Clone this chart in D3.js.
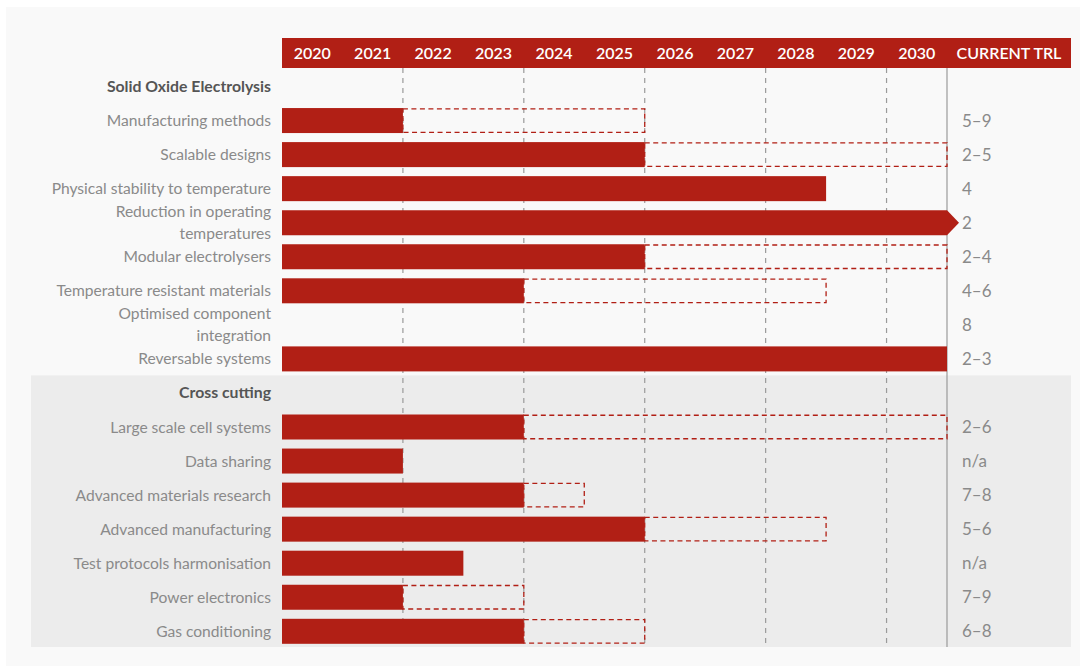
<!DOCTYPE html>
<html>
<head>
<meta charset="utf-8">
<script src="https://cdn.jsdelivr.net/npm/d3@7"></script>
<style>
  html, body { margin: 0; padding: 0; background: #ffffff; }
  svg { display: block; font-family: Lato, "Open Sans", sans-serif; }
</style>
</head>
<body>
<svg id="chart" width="1080" height="666"></svg>
<script>
// Roadmap data: years, activity rows, development phases and TRL levels
const years = [2020, 2021, 2022, 2023, 2024, 2025, 2026, 2027, 2028, 2029, 2030];
const gridYears = [2022, 2024, 2026, 2028, 2030];

const groups = ["Solid Oxide Electrolysis", "Cross cutting"];
const rowGroup = [0, 0, 0, 0, 0, 0, 0, 0, 1, 1, 1, 1, 1, 1, 1];
const rowLabels = [
  ["Manufacturing methods"],
  ["Scalable designs"],
  ["Physical stability to temperature"],
  ["Reduction in operating", "temperatures"],
  ["Modular electrolysers"],
  ["Temperature resistant materials"],
  ["Optimised component", "integration"],
  ["Reversable systems"],
  ["Large scale cell systems"],
  ["Data sharing"],
  ["Advanced materials research"],
  ["Advanced manufacturing"],
  ["Test protocols harmonisation"],
  ["Power electronics"],
  ["Gas conditioning"]
];
// Final year of the firm phase (null = no bar)
const solidEnd = [2021, 2025, 2028, 2030, 2025, 2023, null, 2030, 2023, 2021, 2023, 2025, 2022, 2021, 2023];
// Final year of the indicative phase (null = none)
const dashedEnd = [2025, 2030, null, null, 2030, 2028, null, null, 2030, null, 2024, 2028, null, 2023, 2025];
// Rows whose firm phase continues beyond the horizon
const continues = [false, false, false, true, false, false, false, false, false, false, false, false, false, false, false];
const trl = ["5\u20139", "2\u20135", "4", "2", "2\u20134", "4\u20136", "8", "2\u20133", "2\u20136", "n/a", "7\u20138", "5\u20136", "n/a", "7\u20139", "6\u20138"];

const RED = "#b11f15";
const svg = d3.select("#chart");

// Layout
const x = d3.scaleLinear().domain([2020, 2031]).range([282, 947]);
const rowStep = 34.05;
const firstY = 86.5;
const barH = 25;
const headerTop = 38, headerBottom = 68;
const plotBottom = 647;

// Build row sequence including group headings
const rows = [];
groups.forEach((g, gi) => {
  rows.push({ type: "group", label: g });
  rowLabels.forEach((lab, i) => {
    if (rowGroup[i] === gi) rows.push({ type: "item", i, label: lab });
  });
});
const y = d3.scaleLinear().domain([0, rows.length - 1]).range([firstY, firstY + rowStep * (rows.length - 1)]);

// Panels
svg.append("rect").attr("x", 6).attr("y", 7).attr("width", 1074).attr("height", 659).attr("fill", "#f9f9f9");
const crossIdx = rows.findIndex(r => r.type === "group" && r.label === "Cross cutting");
svg.append("rect")
  .attr("x", 31).attr("y", y(crossIdx) - 17.5)
  .attr("width", 1071 - 31).attr("height", plotBottom - (y(crossIdx) - 17.5))
  .attr("fill", "#ececec");

// Header band
svg.append("rect").attr("x", 282).attr("y", headerTop).attr("width", 1071 - 282).attr("height", headerBottom - headerTop).attr("fill", RED);
svg.append("g").selectAll("text").data(years).join("text")
  .attr("x", d => x(d + 0.5)).attr("y", (headerTop + headerBottom) / 2 + 5.8)
  .attr("text-anchor", "middle").attr("fill", "#ffffff")
  .attr("font-size", 16).attr("font-weight", 600)
  .text(d => d);
svg.append("text")
  .attr("x", 1009).attr("y", (headerTop + headerBottom) / 2 + 5.8)
  .attr("text-anchor", "middle").attr("fill", "#ffffff")
  .attr("font-size", 16).attr("font-weight", 600)
  .text("CURRENT TRL");

// Grid lines
svg.append("g").selectAll("line").data(gridYears).join("line")
  .attr("x1", d => x(d)).attr("x2", d => x(d))
  .attr("y1", headerBottom).attr("y2", plotBottom)
  .attr("stroke", "#9a9a9a").attr("stroke-width", 1.2).attr("stroke-dasharray", "5,5");
svg.append("line")
  .attr("x1", x(2031)).attr("x2", x(2031))
  .attr("y1", headerBottom).attr("y2", plotBottom)
  .attr("stroke", "#9a9a9a").attr("stroke-width", 1.2);

// Row labels
const labelG = svg.append("g");
rows.forEach((r, k) => {
  const cy = y(k);
  if (r.type === "group") {
    labelG.append("text").attr("x", 271).attr("y", cy + 5.5)
      .attr("text-anchor", "end").attr("fill", "#555555")
      .attr("font-size", 15.8).attr("font-weight", 700).text(r.label);
  } else {
    const n = r.label.length;
    r.label.forEach((line, li) => {
      labelG.append("text").attr("x", 271)
        .attr("y", cy + 5.5 + (li - (n - 1) / 2) * 22)
        .attr("text-anchor", "end").attr("fill", "#8a8a8a")
        .attr("font-size", 15.6).text(line);
    });
  }
});

// Bars
const items = rows.map((r, k) => ({ ...r, k })).filter(r => r.type === "item");
const barG = svg.append("g");
items.forEach(r => {
  const i = r.i;
  const cy = y(r.k);
  const top = cy - barH / 2;
  if (dashedEnd[i] !== null) {
    const x0 = x(solidEnd[i] + 1), x1 = x(dashedEnd[i] + 1);
    barG.append("rect").attr("x", x0).attr("y", top + 0.75)
      .attr("width", x1 - x0).attr("height", barH - 1.5)
      .attr("fill", "none").attr("stroke", RED).attr("stroke-width", 1.3)
      .attr("stroke-dasharray", "5,3.5");
  }
  if (solidEnd[i] !== null) {
    const x0 = x(2020), x1 = x(solidEnd[i] + 1);
    if (continues[i]) {
      barG.append("path")
        .attr("d", `M${x0},${top}H${x1}L${x1 + 12},${cy}L${x1},${top + barH}H${x0}Z`)
        .attr("fill", RED);
    } else {
      barG.append("rect").attr("x", x0).attr("y", top)
        .attr("width", x1 - x0).attr("height", barH).attr("fill", RED);
    }
  }
  // TRL value
  svg.append("text").attr("x", 962).attr("y", cy + 6)
    .attr("fill", "#8a8a8a").attr("font-size", 17).text(trl[i]);
});
</script>
</body>
</html>
